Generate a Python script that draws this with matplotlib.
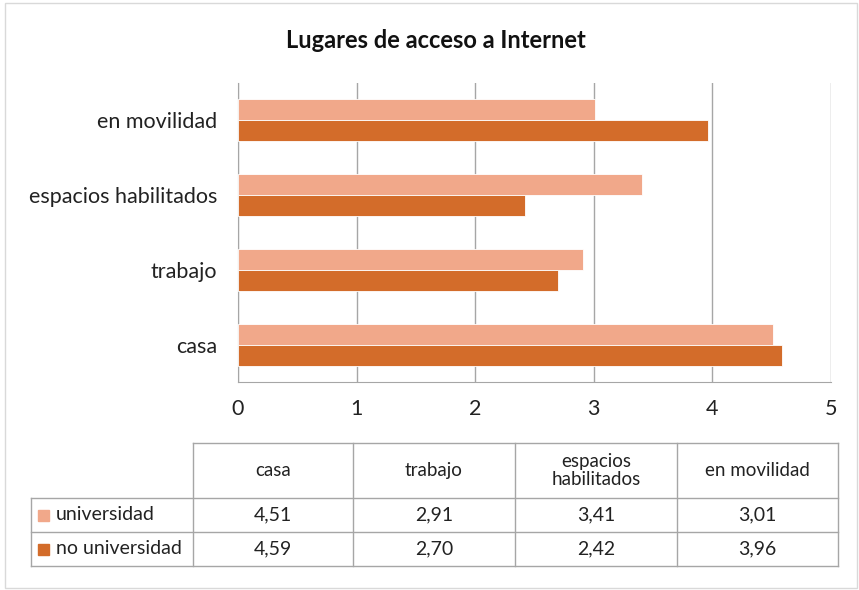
import matplotlib.pyplot as plt
from matplotlib.lines import Line2D
from matplotlib.patches import Rectangle

categorias = ["casa", "trabajo", "espacios habilitados", "en movilidad"]
cabecera_tabla = ["casa", "trabajo", "espacios\nhabilitados", "en movilidad"]
universidad = [4.51, 2.91, 3.41, 3.01]
no_universidad = [4.59, 2.70, 2.42, 3.96]
series = ["universidad", "no universidad"]
colores = ["#F1A88A", "#D36C2A"]

plt.rcParams['font.family'] = ['Lato', 'DejaVu Sans']

W, H = 859, 590
fig = plt.figure(figsize=(W / 100, H / 100), dpi=100)


def fx(px):
    return px / W


def fy(py):
    return 1 - py / H


# borde exterior del grafico
fig.add_artist(Rectangle((fx(5), fy(588)), fx(852), 585 / H, fill=False,
                         edgecolor="#D9D9D9", linewidth=1, transform=fig.transFigure))

ax = fig.add_axes([fx(238), fy(382), fx(831 - 238), (382 - 83) / H])
y = range(len(categorias))
alto = 0.28
ax.barh([i + alto / 2 for i in y], universidad, height=alto, color=colores[0],
        edgecolor="white", linewidth=0.6, label=series[0], zorder=3)
ax.barh([i - alto / 2 for i in y], no_universidad, height=alto, color=colores[1],
        edgecolor="white", linewidth=0.6, label=series[1], zorder=3)

ax.set_xlim(0, 5)
ax.set_ylim(-0.5, 3.5)
ax.set_yticks(list(y))
ax.set_yticklabels(categorias, fontsize=15.5, color="#222222")
ax.set_xticks(range(6))
ax.set_xticklabels([str(v) for v in range(6)], fontsize=15.5, color="#222222")
ax.tick_params(axis="x", length=0, pad=12)
ax.tick_params(axis="y", length=0, pad=15)
ax.grid(axis="x", color="#A6A6A6", linewidth=1, zorder=0)
for s in ["top", "right"]:
    ax.spines[s].set_visible(False)
for s in ["left", "bottom"]:
    ax.spines[s].set_color("#A6A6A6")

fig.text(fx(436), fy(40), "Lugares de acceso a Internet", ha="center", va="center",
         fontsize=17, fontweight="bold", color="#111111")

# tabla de datos
cols = [193, 353, 515, 677, 838]
filas = [443, 498, 532, 566]
izq = 31
lc = "#A6A6A6"


def linea(x0, x1, y0, y1):
    fig.add_artist(Line2D([fx(x0), fx(x1)], [fy(y0), fy(y1)], color=lc,
                          linewidth=1, transform=fig.transFigure))


linea(cols[0], cols[-1], filas[0], filas[0])
for r in filas[1:]:
    linea(izq, cols[-1], r, r)
linea(izq, izq, filas[1], filas[-1])
for c in cols:
    linea(c, c, filas[0], filas[-1])

for j, txt in enumerate(cabecera_tabla):
    cx = (cols[j] + cols[j + 1]) / 2
    fig.text(fx(cx), fy((filas[0] + filas[1]) / 2), txt, ha="center", va="center",
             fontsize=13.5, color="#222222", linespacing=1.05)

valores = [universidad, no_universidad]
for i, fila in enumerate(valores):
    cy = (filas[i + 1] + filas[i + 2]) / 2
    fig.add_artist(Rectangle((fx(38), fy(cy + 5.5)), fx(11), 11 / H, color=colores[i],
                             transform=fig.transFigure))
    fig.text(fx(56), fy(cy), series[i], ha="left", va="center", fontsize=14,
             color="#222222")
    for j, v in enumerate(fila):
        cx = (cols[j] + cols[j + 1]) / 2
        fig.text(fx(cx), fy(cy), f"{v:.2f}".replace(".", ","), ha="center", va="center",
                 fontsize=14, color="#222222")

plt.savefig("out.png", dpi=100)
